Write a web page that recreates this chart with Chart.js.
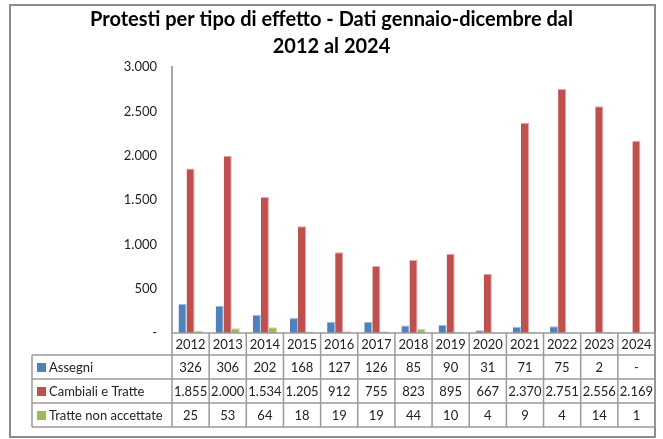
<!DOCTYPE html>
<html>
<head>
<meta charset="utf-8">
<script src="https://cdn.jsdelivr.net/npm/chart.js@4/dist/chart.umd.min.js"></script>
<style>
  html, body { margin: 0; padding: 0; background: #fff; }
  #wrap { width: 663px; height: 439px; position: relative; }
  canvas { display: block; }
</style>
</head>
<body>
<div id="wrap"><canvas id="chart" width="663" height="439"></canvas></div>
<script>
// data
const years = ['2012', '2013', '2014', '2015', '2016', '2017', '2018', '2019', '2020', '2021', '2022', '2023', '2024'];
const assegni = [326, 306, 202, 168, 127, 126, 85, 90, 31, 71, 75, 2, 0];
const cambiali = [1855, 2000, 1534, 1205, 912, 755, 823, 895, 667, 2370, 2751, 2556, 2169];
const tratteNonAcc = [25, 53, 64, 18, 19, 19, 44, 10, 4, 9, 4, 14, 1];
const yTicks = [0, 500, 1000, 1500, 2000, 2500, 3000];

const FONT = 'Lato, "Open Sans", sans-serif';
const TEXT = '#222';
const LINE = '#9a9a9a';

function fmtIt(v) {
  if (!v) return '-';
  return String(v).replace(/\B(?=(\d{3})+(?!\d))/g, '.');
}

// frame + data table under the plot
const tablePlugin = {
  id: 'dataTable',
  beforeDraw(chart) {
    const c = chart.ctx;
    c.save();
    c.fillStyle = '#fff';
    c.fillRect(0, 0, chart.width, chart.height);
    c.strokeStyle = '#8c8c8c';
    c.lineWidth = 2;
    c.strokeRect(10, 5, 645, 432);
    c.restore();
  },
  afterDraw(chart) {
    const c = chart.ctx;
    const a = chart.chartArea;
    const xs = chart.scales.x;
    const n = years.length;
    const legL = 32;
    const rows = [a.bottom, a.bottom + 22, a.bottom + 46, a.bottom + 70, a.bottom + 94];
    const bounds = [a.left];
    for (let i = 0; i < n - 1; i++) bounds.push((xs.getPixelForValue(i) + xs.getPixelForValue(i + 1)) / 2);
    bounds.push(a.right);

    c.save();
    c.strokeStyle = LINE;
    c.lineWidth = 1.5;
    c.beginPath();
    c.moveTo(a.left, rows[0]); c.lineTo(a.right, rows[0]);
    for (let r = 1; r < rows.length; r++) { c.moveTo(legL, rows[r]); c.lineTo(a.right, rows[r]); }
    bounds.forEach(x => { c.moveTo(x, rows[0]); c.lineTo(x, rows[4]); });
    c.moveTo(legL, rows[1]); c.lineTo(legL, rows[4]);
    c.stroke();

    c.font = '13px ' + FONT;
    c.fillStyle = TEXT;
    c.textAlign = 'center';
    c.textBaseline = 'middle';
    years.forEach((y, i) => c.fillText(y, xs.getPixelForValue(i), (rows[0] + rows[1]) / 2 + 1));

    chart.data.datasets.forEach((ds, r) => {
      const yc = (rows[r + 1] + rows[r + 2]) / 2 + 1;
      c.fillStyle = ds.backgroundColor;
      c.fillRect(37, yc - 5, 9, 9);
      c.fillStyle = TEXT;
      c.textAlign = 'left';
      c.fillText(ds.label, 49, yc);
      c.textAlign = 'center';
      ds.data.forEach((v, i) => c.fillText(fmtIt(v), xs.getPixelForValue(i), yc));
    });
    c.restore();
  }
};

new Chart(document.getElementById('chart'), {
  type: 'bar',
  data: {
    labels: years,
    datasets: [
      { label: 'Assegni', data: assegni, backgroundColor: '#4F81BD', borderColor: '#9DB9DC', borderWidth: { top: 1, right: 1, left: 0, bottom: 0 } },
      { label: 'Cambiali e Tratte', data: cambiali, backgroundColor: '#C0504D', borderColor: '#E4A9A8', borderWidth: { top: 1, right: 1, left: 0, bottom: 0 } },
      { label: 'Tratte non accettate', data: tratteNonAcc, backgroundColor: '#9BBB59', borderColor: '#C9DCA6', borderWidth: { top: 1, right: 1, left: 0, bottom: 0 } }
    ]
  },
  options: {
    responsive: false,
    animation: false,
    layout: { padding: { left: 8, right: 8, top: 0, bottom: 106 } },
    datasets: { bar: { categoryPercentage: 0.65, barPercentage: 1 } },
    plugins: {
      legend: { display: false },
      tooltip: { enabled: false },
      title: {
        display: true,
        text: ['Protesti per tipo di effetto - Dati gennaio-dicembre dal', '2012 al 2024'],
        color: '#000',
        font: { family: FONT, size: 20, weight: 'bold', lineHeight: 1.35 },
        padding: { top: 6, bottom: 7 }
      }
    },
    scales: {
      x: { display: false },
      y: {
        min: 0, max: 3000,
        afterFit(s) { s.width = 164; },
        afterBuildTicks(s) { s.ticks = yTicks.map(v => ({ value: v })); },
        grid: { display: false, drawTicks: false },
        border: { color: '#a6a6a6', width: 2 },
        ticks: {
          padding: 15,
          color: TEXT,
          font: { family: FONT, size: 13 },
          callback: v => fmtIt(v)
        }
      }
    }
  },
  plugins: [tablePlugin]
});
</script>
</body>
</html>
